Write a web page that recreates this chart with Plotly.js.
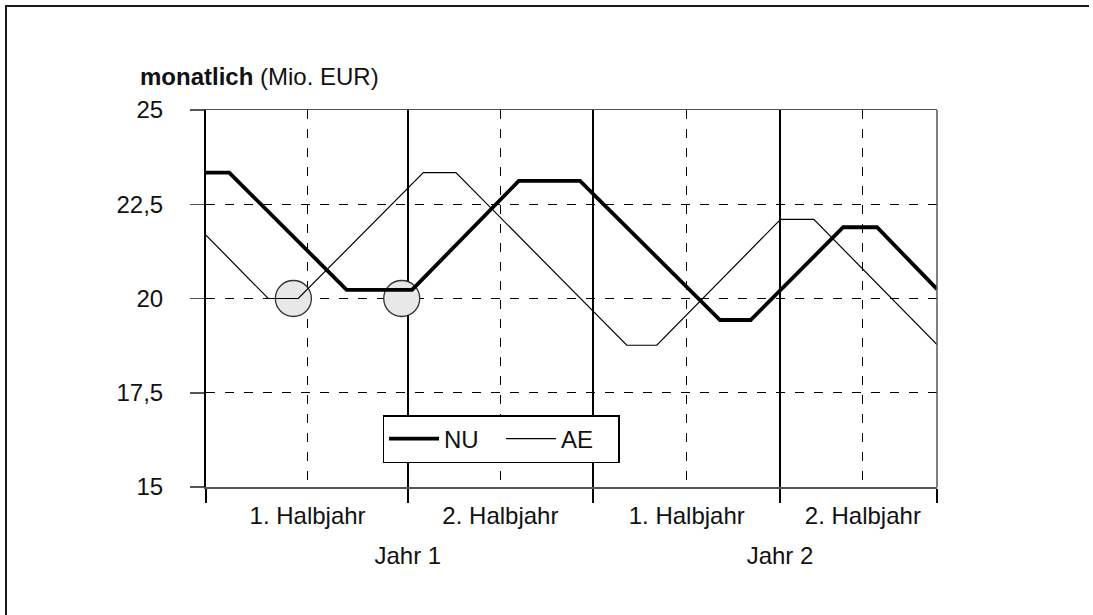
<!DOCTYPE html>
<html>
<head>
<meta charset="utf-8">
<script src="https://cdn.plot.ly/plotly-3.0.1.min.js"></script>
<style>
  html, body { margin: 0; padding: 0; background: #fff; overflow: hidden; }
  #wrap { position: relative; width: 1093px; height: 615px; overflow: hidden; }
  #chart { width: 1093px; height: 615px; }
  #frame {
    position: absolute; left: 5px; top: 5px; width: 1084px; height: 700px;
    border-left: 2px solid #1a1a1a; border-top: 2px solid #1a1a1a;
    box-sizing: border-box; pointer-events: none;
  }
</style>
</head>
<body>
<div id="wrap">
  <div id="chart"></div>
  <div id="frame"></div>
</div>
<script>
// ---- data (x in months from start of Jahr 1) ----
const nuMonths = [0, 0.72, 4.36, 6.39, 9.70, 11.60, 15.94, 16.89, 19.76, 20.81, 22.67];
const nuValues = [23.34, 23.34, 20.23, 20.23, 23.12, 23.12, 19.43, 19.43, 21.89, 21.89, 20.25];
const aeMonths = [0, 1.93, 2.86, 6.74, 7.75, 13.05, 13.98, 17.82, 18.85, 22.67];
const aeValues = [21.68, 20.0, 20.0, 23.34, 23.34, 18.76, 18.76, 22.1, 22.1, 18.78];
const markMonths = [2.71, 6.07];
const markValues = [20, 20];

const halfBounds = [0, 6.26, 12.0, 17.80, 22.67];
const yearLabels = ['', 'Jahr 1', '', 'Jahr 2', ''];
const halfMids = [3.15, 9.13, 14.91, 20.37];
const halfLabels = ['1. Halbjahr', '2. Halbjahr', '1. Halbjahr', '2. Halbjahr'];
const yTickVals = [15, 17.5, 20, 22.5, 25];
const yTickText = ['15', '17,5', '20', '22,5', '25'];
const seriesNames = ['NU', 'AE'];

const FONT = '"Liberation Sans", Arial, sans-serif';
const xRange = [halfBounds[0], halfBounds[halfBounds.length - 1]];

const traces = [
  {
    x: markMonths, y: markValues, type: 'scatter', mode: 'markers',
    marker: { size: 36, color: '#e8e8e8', line: { color: '#333', width: 1.3 } },
    showlegend: false, hoverinfo: 'skip'
  },
  {
    x: nuMonths, y: nuValues, type: 'scatter', mode: 'lines', name: seriesNames[0],
    line: { color: '#000', width: 3.8 }
  },
  {
    x: aeMonths, y: aeValues, type: 'scatter', mode: 'lines', name: seriesNames[1],
    line: { color: '#000', width: 1.2 }
  },
  { x: [], y: [], xaxis: 'x2', yaxis: 'y', showlegend: false, hoverinfo: 'skip' }
];

const layout = {
  width: 1093, height: 615,
  margin: { l: 206, r: 156, t: 110, b: 128 },
  paper_bgcolor: '#fff', plot_bgcolor: '#fff',
  font: { family: FONT, size: 24, color: '#111' },
  title: {
    text: '<b>monatlich</b> (Mio. EUR)',
    font: { family: FONT, size: 24, color: '#111' },
    xref: 'container', x: 140 / 1093, xanchor: 'left',
    yref: 'container', y: 1 - 77 / 615, yanchor: 'middle'
  },
  showlegend: true,
  legend: {
    orientation: 'h',
    x: 0.4036, xanchor: 'center',
    y: 0.127, yanchor: 'middle',
    bgcolor: '#fff', bordercolor: '#000', borderwidth: 1.5,
    font: { family: FONT, size: 24, color: '#111' },
    itemwidth: 50,
    entrywidth: 52
  },
  xaxis: {
    range: xRange, fixedrange: true,
    tickmode: 'array', tickvals: halfBounds, ticktext: yearLabels,
    ticks: 'outside', ticklen: 14, tickwidth: 2, tickcolor: '#000',
    ticklabelstandoff: 33,
    showgrid: true, gridcolor: '#000', gridwidth: 2,
    showline: true, linecolor: '#555', linewidth: 1.5, mirror: true,
    zeroline: false
  },
  xaxis2: {
    overlaying: 'x', anchor: 'y', side: 'bottom',
    range: xRange, fixedrange: true,
    tickmode: 'array', tickvals: halfMids, ticktext: halfLabels,
    ticks: '', ticklabelstandoff: 12,
    showgrid: true, gridcolor: '#000', gridwidth: 1.3, griddash: '9px,10px',
    showline: false, zeroline: false
  },
  yaxis: {
    range: [15, 25], fixedrange: true,
    tickmode: 'array', tickvals: yTickVals, ticktext: yTickText,
    ticks: 'outside', ticklen: 14, tickwidth: 1.5, tickcolor: '#555',
    ticklabelstandoff: 22,
    showgrid: true, gridcolor: '#000', gridwidth: 1.3, griddash: '9px,10px',
    showline: true, linecolor: '#000', linewidth: 2,
    zeroline: false
  },
  shapes: [
    {
      type: 'line', xref: 'paper', yref: 'paper', x0: 1, x1: 1, y0: 0, y1: 1,
      line: { color: '#555', width: 1.5 }
    }
  ]
};

Plotly.newPlot('chart', traces, layout, { displayModeBar: false, staticPlot: true });
</script>
</body>
</html>
